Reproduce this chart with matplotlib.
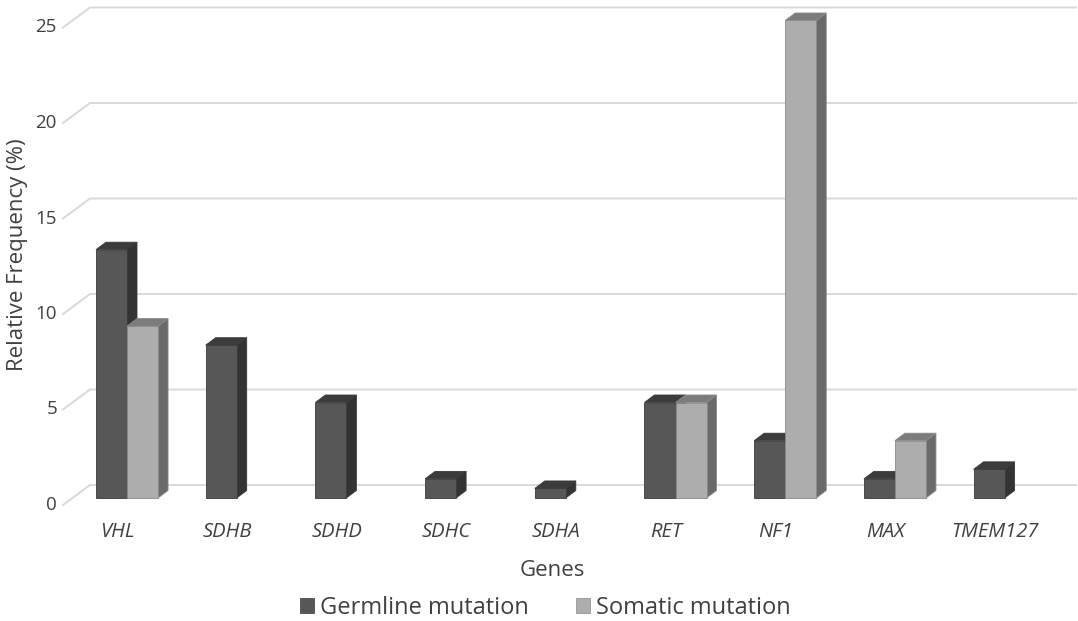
import matplotlib.pyplot as plt
from matplotlib.patches import Polygon, Patch

plt.rcParams["font.family"] = ["Open Sans", "DejaVu Sans"]

genes = ["VHL", "SDHB", "SDHD", "SDHC", "SDHA", "RET", "NF1", "MAX", "TMEM127"]
germline = [13, 8, 5, 1, 0.5, 5, 3, 1, 1.5]
somatic = [9, 0, 0, 0, 0, 5, 25, 3, 0]
series_names = ["Germline mutation", "Somatic mutation"]
yticks = [0, 5, 10, 15, 20, 25]

# pixel geometry of the pseudo-3D frame (figure is 1078 x 621 px)
W, H = 1078, 621
X0, PX_CAT = 127.0, 109.7      # front plane: category 0 centre, px per category
Y0, PX_VAL = 498.0, 19.1       # front plane: value 0 (from top), px per unit
BAR_W = 0.283                  # bar width in category units
DEPTH = (10.0, 7.5)            # bar depth offset in px (right, up)
FLOOR_FRONT = (63.0, 7.0)      # left x of floor front, px below bar plane
FLOOR_BACK = (90.0, 13.0)      # left x of back wall, px above bar plane
LABEL_SHIFT = 9.5              # category labels sit at the floor front (px left)

TXT = "#404040"
FACES = [("#575757", "#333333", "#3c3c3c", "#3a3a3a"),
         ("#adadad", "#6a6a6a", "#7c7c7c", "#8a8a8a")]


def px_x(px):
    return (px - X0) / PX_CAT


def px_y(py):
    return (Y0 - py) / PX_VAL


fig = plt.figure(figsize=(W / 100, H / 100), dpi=100)
ax = fig.add_axes([0, 0, 1, 1])
ax.set_xlim(px_x(0), px_x(W))
ax.set_ylim(px_y(H), px_y(0))
ax.axis("off")

ddx = DEPTH[0] / PX_CAT
ddy = DEPTH[1] / PX_VAL
fy = FLOOR_FRONT[1] / PX_VAL
by = FLOOR_BACK[1] / PX_VAL

# gridlines (front slant + back wall)
for v in yticks:
    ax.plot([px_x(FLOOR_FRONT[0]), px_x(FLOOR_BACK[0]), px_x(W - 2)],
            [v - fy, v + by, v + by], color="#d9d9d9", lw=1.4, zorder=1)
    ax.text(px_x(57), v - fy, str(v), ha="right", va="center",
            fontsize=13.5, color=TXT)

# bars
for i, g in enumerate(genes):
    for s, vals in enumerate([germline, somatic]):
        v = vals[i]
        if v <= 0:
            continue
        front, side, top, edge = FACES[s]
        x0 = i - BAR_W + s * BAR_W
        x1 = x0 + BAR_W
        z = 3 + i * 2 + s
        ax.add_patch(Polygon([(x1, 0), (x1 + ddx, ddy), (x1 + ddx, v + ddy), (x1, v)],
                             closed=True, fc=side, ec=edge, lw=0.6, zorder=z))
        ax.add_patch(Polygon([(x0, v), (x0 + ddx, v + ddy), (x1 + ddx, v + ddy), (x1, v)],
                             closed=True, fc=top, ec=edge, lw=0.6, zorder=z))
        ax.add_patch(Polygon([(x0, 0), (x1, 0), (x1, v), (x0, v)],
                             closed=True, fc=front, ec=edge, lw=0.6, zorder=z))
    ax.text(i - LABEL_SHIFT / PX_CAT, px_y(532), g,
            ha="center", va="center", fontsize=14.5, style="italic", color=TXT)

ax.text(px_x(18), px_y(255), "Relative Frequency (%)", rotation=90,
        ha="center", va="center", fontsize=16, color=TXT)
ax.text(px_x(552), px_y(570), "Genes", ha="center", va="center",
        fontsize=16, color=TXT)

handles = [Patch(fc=FACES[k][0], ec=FACES[k][3], lw=0.5) for k in range(2)]
ax.legend(handles, series_names, loc="center", bbox_to_anchor=(545 / W, 1 - 608 / H),
          ncol=2, frameon=False, fontsize=17, handlelength=0.6, handleheight=0.6,
          handletextpad=0.25, columnspacing=2.0, labelcolor=TXT)

fig.savefig("out.png", dpi=100, facecolor="white")
